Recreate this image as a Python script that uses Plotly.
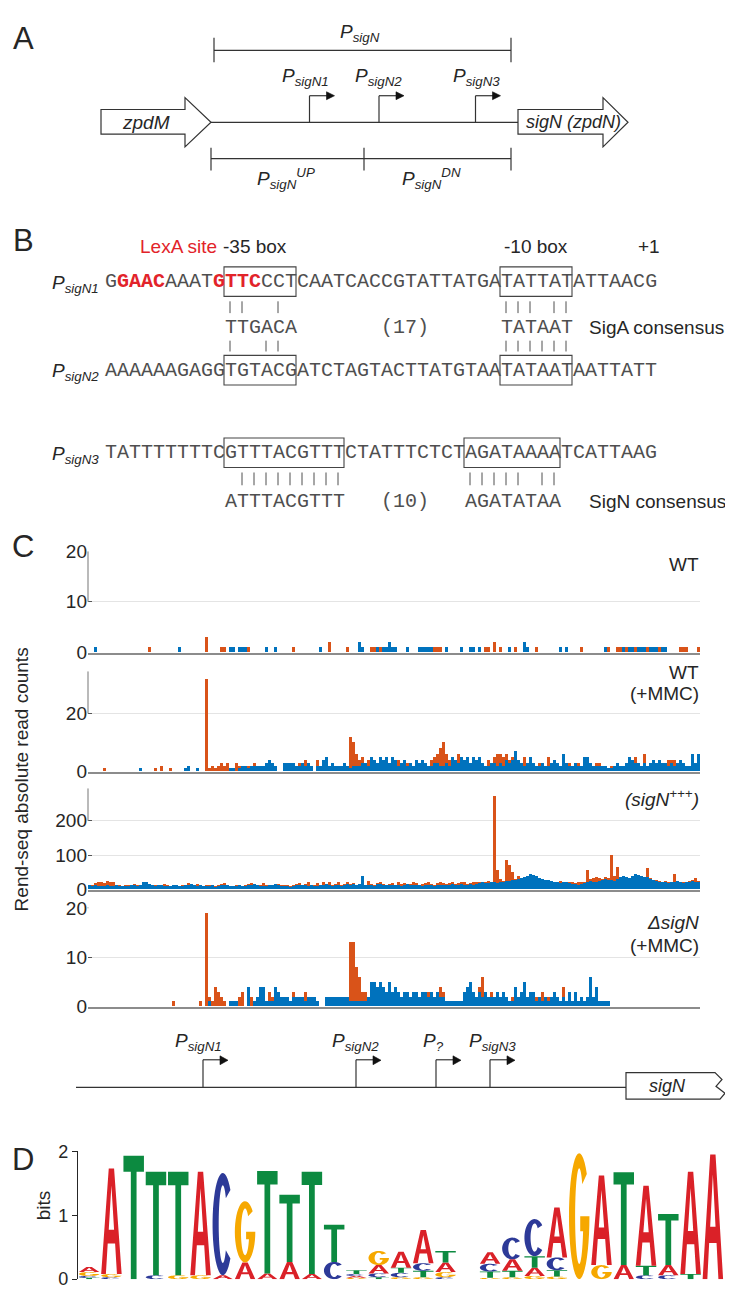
import plotly.graph_objects as go
import numpy as np

W, H = 733, 1291

# ======================= DATA =======================
# Panel C: Rend-seq read counts per position bin (0..203); orange = one end type, blue = other
n_bins = 204

wt_blue_pos = [2, 30, 47, 48, 50, 51, 52, 59, 62, 77, 90, 91, 96, 98, 99, 100, 101, 102, 106, 110,
               111, 112, 113, 114, 119, 124, 127, 128, 130, 140, 145, 146, 157, 159, 172, 178, 180, 181,
               183, 184, 185, 187, 188, 189, 191, 192]
wt_blue_val = [1, 1, 1, 1, 1, 1, 1, 1, 1, 1, 2, 1, 1, 1, 1, 2, 1, 1, 1, 1,
               1, 1, 1, 1, 1, 1, 1, 1, 1, 1, 2, 1, 1, 1, 1, 1, 1, 1,
               1, 1, 1, 1, 1, 1, 1, 1]
wt_orange_pos = [20, 39, 44, 45, 53, 68, 80, 86, 94, 95, 97, 115, 116, 117, 132, 133, 135, 137, 142, 149,
                 164, 173, 176, 177, 179, 182, 186, 190, 197, 198, 199, 203]
wt_orange_val = [1, 3, 1, 1, 1, 1, 2, 1, 1, 1, 1, 1, 1, 1, 1, 1, 2, 1, 1, 1,
                 1, 1, 1, 1, 1, 1, 1, 1, 1, 1, 1, 1]

mmc_blue = [0, 0, 0, 0, 0, 0, 0, 0, 0, 0, 0, 0, 0, 0, 0, 0, 0, 1, 0, 0,
            0, 0, 0, 0, 0, 0, 0, 0, 0, 0, 0, 0, 1, 2, 0, 0, 1, 0, 0, 0,
            0, 0, 0, 0, 0, 0, 0, 1, 1, 0, 1, 2, 2, 1, 2, 2, 2, 2, 2, 3,
            4, 3, 2, 0, 0, 3, 3, 3, 3, 2, 2, 3, 2, 3, 2, 0, 2, 2, 4, 5,
            2, 3, 2, 2, 2, 3, 2, 1, 2, 2, 2, 3, 3, 2, 5, 4, 3, 5, 4, 5,
            3, 5, 4, 2, 3, 4, 2, 3, 2, 4, 3, 4, 3, 2, 2, 3, 3, 2, 2, 3,
            2, 5, 4, 3, 5, 4, 5, 3, 5, 4, 5, 3, 2, 2, 3, 3, 2, 3, 2, 4,
            3, 4, 7, 4, 3, 2, 3, 5, 3, 2, 2, 3, 2, 2, 3, 4, 3, 2, 6, 3,
            2, 2, 3, 2, 2, 5, 5, 3, 2, 2, 2, 2, 2, 1, 1, 2, 3, 2, 2, 3,
            5, 4, 3, 3, 2, 3, 2, 3, 4, 3, 4, 3, 3, 2, 3, 2, 3, 4, 3, 2,
            2, 6, 3, 6]
mmc_orange_pos = [5, 22, 24, 27, 39, 40, 41, 42, 43, 44, 45, 46, 49, 50, 52, 53, 55, 57, 60, 67,
                  70, 72, 74, 76, 84, 87, 88, 89, 90, 91, 92, 93, 96, 103, 106, 112, 114, 115, 116, 117,
                  118, 119, 120, 123, 126, 128, 133, 135, 136, 137, 138, 139, 140, 141, 145, 147, 150, 153, 156, 160,
                  163, 169, 170, 174, 176, 182, 185, 188, 193, 194, 195, 199]
mmc_orange_val = [1, 1, 2, 1, 32, 1, 2, 1, 2, 3, 2, 3, 3, 2, 1, 2, 3, 2, 3, 3,
                  3, 4, 2, 4, 2, 12, 10, 6, 4, 5, 3, 4, 3, 4, 3, 3, 4, 5, 6, 8,
                  10, 6, 4, 6, 4, 3, 4, 5, 6, 6, 5, 6, 4, 5, 5, 4, 3, 5, 3, 3,
                  3, 3, 3, 2, 2, 5, 6, 2, 4, 4, 4, 2]

sigN_blue = [12, 10, 12, 11, 9, 10, 12, 10, 11, 12, 10, 9, 11, 10, 12, 13, 11, 12, 22, 20,
             15, 12, 10, 12, 14, 11, 9, 10, 12, 13, 11, 10, 12, 14, 15, 12, 10, 13, 11, 9,
             10, 12, 8, 10, 12, 13, 14, 11, 10, 9, 12, 11, 10, 12, 13, 15, 12, 11, 10, 9,
             12, 13, 15, 12, 10, 11, 9, 8, 10, 12, 14, 12, 13, 11, 12, 10, 11, 12, 13, 15,
             12, 10, 14, 12, 11, 13, 15, 12, 16, 14, 15, 38, 14, 12, 13, 11, 15, 16, 14, 12,
             13, 12, 14, 12, 11, 13, 15, 12, 14, 13, 12, 11, 13, 14, 12, 11, 12, 13, 14, 12,
             13, 15, 12, 14, 16, 13, 14, 15, 12, 16, 18, 20, 17, 19, 22, 20, 18, 20, 22, 25,
             24, 26, 28, 30, 32, 35, 40, 45, 42, 38, 34, 30, 28, 26, 25, 22, 20, 18, 20, 22,
             18, 16, 15, 14, 16, 18, 22, 24, 20, 22, 25, 28, 30, 28, 26, 24, 30, 35, 38, 36,
             34, 40, 45, 42, 38, 36, 35, 30, 28, 25, 22, 20, 20, 18, 20, 22, 24, 20, 18, 20,
             22, 24, 20, 22]
sigN_orange = [10, 12, 18, 20, 22, 18, 24, 20, 22, 14, 12, 10, 12, 14, 11, 15, 12, 10, 15, 14,
               12, 14, 12, 10, 14, 16, 12, 10, 14, 12, 11, 12, 14, 18, 12, 10, 15, 12, 10, 12,
               14, 12, 10, 12, 15, 18, 12, 10, 11, 14, 12, 10, 12, 16, 18, 14, 12, 14, 18, 12,
               10, 12, 14, 16, 12, 14, 12, 10, 12, 15, 18, 14, 16, 20, 14, 12, 18, 14, 20, 16,
               20, 14, 16, 22, 14, 16, 20, 15, 18, 14, 16, 20, 14, 25, 16, 14, 18, 20, 16, 14,
               16, 18, 14, 20, 16, 18, 14, 16, 20, 18, 14, 16, 18, 20, 16, 14, 18, 20, 18, 16,
               18, 20, 16, 18, 20, 22, 16, 18, 20, 22, 20, 18, 22, 24, 20, 270, 55, 30, 25, 85,
               70, 50, 30, 40, 30, 28, 36, 38, 40, 36, 30, 28, 26, 24, 22, 20, 22, 24, 22, 20,
               22, 20, 18, 22, 20, 22, 55, 30, 32, 35, 34, 30, 35, 33, 100, 40, 65, 36, 38, 34,
               32, 38, 40, 36, 34, 32, 62, 32, 28, 26, 24, 22, 24, 22, 20, 45, 24, 22, 20, 22,
               24, 26, 32, 24]

dsig_blue_start = 40
dsig_blue = [1, 0, 0, 0, 0, 0, 0, 1, 1, 1, 0, 0, 0, 4, 0, 1, 2, 4, 4, 1,
             1, 1, 4, 3, 2, 2, 2, 1, 2, 2, 2, 2, 1, 2, 2, 2, 1, 0, 0, 2,
             2, 2, 2, 2, 2, 2, 2, 1, 1, 1, 1, 1, 1, 2, 5, 5, 4, 5, 4, 3,
             5, 3, 4, 3, 2, 3, 3, 2, 3, 3, 2, 3, 3, 2, 3, 2, 3, 2, 2, 1,
             1, 1, 1, 1, 1, 3, 4, 5, 3, 2, 3, 2, 3, 2, 2, 2, 3, 2, 3, 2,
             1, 1, 4, 2, 3, 5, 2, 3, 3, 1, 2, 1, 2, 1, 2, 3, 2, 1, 2, 1,
             3, 1, 3, 1, 2, 1, 2, 6, 2, 4, 1, 1, 1, 1]
dsig_orange_pos = [28, 37, 39, 40, 41, 42, 43, 44, 45, 47, 50, 51, 54, 60, 61, 68, 70, 72, 73, 87,
                   88, 89, 90, 91, 92, 94, 112, 113, 115, 117, 118, 124, 130, 131, 134, 141, 149, 151, 153, 158]
dsig_orange_val = [1, 1, 19, 2, 1, 4, 3, 2, 1, 1, 2, 3, 2, 3, 2, 3, 2, 3, 2, 13,
                   13, 8, 6, 3, 3, 4, 3, 3, 2, 4, 3, 1, 4, 6, 3, 2, 2, 3, 2, 4]

panel_labels = ["WT", "WT<br>(+MMC)", "<i>(sigN<sup>+++</sup>)</i>", "<i>\u0394sigN</i><br>(+MMC)"]
panel_yticks = [[0, 10, 20], [0, 20], [0, 100, 200], [0, 10, 20]]
panel_ymax = [20, 34.6, 294, 20.2]

# Panel D: sequence logo letter heights (bits) per motif column
logo_A = [0.08, 1.65, 0, 0, 0, 1.62, 0.06, 0.26, 0.09, 0.27, 0.08, 0, 0.03, 0.13, 0.25, 0.52, 0.15, 0, 0.18, 0.18,
          0.13, 0.78, 0, 1.40, 0.22, 1.25, 0.16, 1.60, 1.95]
logo_C = [0.03, 0.03, 0, 0.06, 0, 0, 1.60, 0, 0, 0, 0, 0.27, 0.03, 0.06, 0.07, 0.12, 0.03, 0, 0.12, 0.34,
          0.58, 0.20, 0, 0, 0, 0.06, 0.06, 0, 0]
logo_G = [0.06, 0.05, 0, 0, 0.06, 0.06, 0, 0.96, 0, 0, 0, 0, 0.02, 0.22, 0.03, 0.03, 0.08, 0, 0.02, 0.03,
          0.05, 0.04, 1.97, 0.22, 0, 0, 0, 0, 0]
logo_T = [0.02, 0, 1.93, 1.62, 1.62, 0, 0, 0, 1.60, 1.05, 1.60, 0.58, 0.06, 0.03, 0.08, 0.10, 0.18, 0, 0.10, 0.10,
          0.18, 0.10, 0, 0, 1.45, 0.15, 0.80, 0.08, 0]

# Panel B sequences
seq_sigN1 = "GGAACAAATGTTCCCTCAATCACCGTATTATGATATTATATTAACG"
seq_sigN2 = "AAAAAAGAGGTGTACGATCTAGTACTTATGTAATATAATAATTATT"
seq_sigN3 = "TATTTTTTTCGTTTACGTTTCTATTTCTCTAGATAAAATCATTAAG"
lexA_idx = [1, 2, 3, 4, 9, 10, 11, 12]
sigA_cons = [(10, "TTGACA"), (23, "(17)"), (33, "TATAAT")]
sigN_cons = [(10, "ATTTACGTTT"), (23, "(10)"), (30, "AGATATAA")]
sigA_boxes = [(10, 15), (33, 38)]
sigN_boxes = [(10, 19), (30, 37)]

# ======================= STYLE / HELPERS =======================
SANS = "Liberation Sans, Arial, Helvetica, sans-serif"
MONO = "Liberation Mono, Courier New, monospace"
INK = "#262626"
SEQ = "#4f4f4f"
RED = "#E2232A"
ORANGE = "#D95319"
BLUE = "#0072BD"

shapes, annots = [], []


def fx(x):
    return x / W


def fy(y):
    return 1 - y / H


def line(x0, y0, x1, y1, color="#333333", width=1.2):
    shapes.append(dict(type="line", xref="paper", yref="paper", x0=fx(x0), y0=fy(y0), x1=fx(x1), y1=fy(y1),
                       line=dict(color=color, width=width)))


def poly(pts, fill="white", color="#333333", width=1.2):
    d = "M " + " L ".join(f"{fx(x):.5f},{fy(y):.5f}" for x, y in pts) + " Z"
    shapes.append(dict(type="path", xref="paper", yref="paper", path=d, fillcolor=fill,
                       line=dict(color=color, width=width)))


def rect(x0, y0, x1, y1, color="#444444", width=1.1):
    shapes.append(dict(type="rect", xref="paper", yref="paper", x0=fx(x0), y0=fy(y1), x1=fx(x1), y1=fy(y0),
                       line=dict(color=color, width=width), fillcolor="rgba(0,0,0,0)"))


def text(x, y, s, size, anchor="center", color=INK, family=SANS, angle=0):
    annots.append(dict(xref="paper", yref="paper", x=fx(x), y=fy(y), text=s, showarrow=False,
                       xanchor=anchor, yanchor="middle", textangle=angle, borderpad=0,
                       font=dict(size=size, color=color, family=family)))


def ptext(sub, sup=None):
    s = "<i>P</i><sub><i>%s</i></sub>" % sub
    if sup:
        s += "<sup><i>%s</i></sup>" % sup
    return s


# ======================= PANEL A =======================
text(15, 21, "A", 31)
line(206, 33, 503, 33)
line(206, 20, 206, 45)
line(503, 20, 503, 45)
text(352, 15, ptext("sigN"), 19)
line(203, 106, 510, 106)
poly([(93, 93), (177, 93), (177, 81), (203, 106), (177, 131), (177, 118), (93, 118)])
poly([(510, 93), (595, 93), (595, 81), (620, 106), (595, 131), (595, 118), (510, 118)])
text(138, 106, "<i>zpdM</i>", 19)
text(565, 106, "<i>sigN (zpdN)</i>", 18)
for xp, lab, lx in [(301.5, "sigN1", 273), (371, "sigN2", 346), (467.5, "sigN3", 444)]:
    line(xp, 106, xp, 79)
    line(xp, 79, xp + 18, 79)
    poly([(xp + 17, 75), (xp + 25, 79), (xp + 17, 83)], fill="#111111", color="#111111", width=0.6)
    text(lx, 60, ptext(lab), 19, anchor="left")
line(203, 143, 503, 143)
for t in (203, 356, 503):
    line(t, 132, t, 155)
text(248, 163, ptext("sigN", "UP"), 19, anchor="left")
text(393, 163, ptext("sigN", "DN"), 19, anchor="left")

# ======================= PANEL B =======================
CH = 12.0   # monospace advance at 20 px
X0 = 96.0


def cx(i):
    return X0 + i * CH


text(15, 226, "B", 31)
text(131, 232, "LexA site", 19, anchor="left", color=RED)
text(214, 232, "-35 box", 19, anchor="left")
text(495, 232, "-10 box", 19, anchor="left")
text(629, 232, "+1", 19, anchor="left")


def seq_html(seq, red_idx):
    out, i = [], 0
    while i < len(seq):
        red = i in red_idx
        j = i
        while j < len(seq) and (j in red_idx) == red:
            j += 1
        chunk = seq[i:j]
        out.append("<span style='color:%s'><b>%s</b></span>" % (RED, chunk) if red else chunk)
        i = j
    return "".join(out)


rows = [(seq_sigN1, 268, "sigN1", lexA_idx, sigA_boxes),
        (seq_sigN2, 358, "sigN2", [], sigA_boxes),
        (seq_sigN3, 442, "sigN3", [], sigN_boxes)]
for seq, yy, lab, red, boxes in rows:
    text(43, yy + 2, ptext(lab), 19, anchor="left")
    text(X0, yy, seq_html(seq, red), 20, anchor="left", color=SEQ, family=MONO)
    for a, b in boxes:
        rect(cx(a), yy - 15, cx(b + 1), yy + 15)


def cons_row(cons, yy, label):
    for start, s in cons:
        text(cx(start), yy, s, 20, anchor="left", color=SEQ, family=MONO)
    text(580, yy, label, 19, anchor="left")


def match_bars(seq, cons, y0, y1):
    for start, s in cons:
        if s.startswith("("):
            continue
        for k, ch in enumerate(s):
            if seq[start + k] == ch:
                xm = cx(start + k) + CH / 2
                line(xm, y0, xm, y1, color=SEQ, width=1)


cons_row(sigA_cons, 315, "SigA consensus")
match_bars(seq_sigN1, sigA_cons, 288, 300)
match_bars(seq_sigN2, sigA_cons, 328, 339)
cons_row(sigN_cons, 492, "SigN consensus")
match_bars(seq_sigN3, sigN_cons, 462, 475)

# ======================= PANEL C =======================
text(15, 537, "C", 31)
chart_px = [(542, 645), (664, 766), (783, 886), (904, 1005)]
layout_axes = {}
traces = []
series = [
    ((wt_orange_pos, wt_orange_val), (wt_blue_pos, wt_blue_val)),
    ((mmc_orange_pos, mmc_orange_val), (list(range(n_bins)), mmc_blue)),
    ((list(range(n_bins)), sigN_orange), (list(range(n_bins)), sigN_blue)),
    ((dsig_orange_pos, dsig_orange_val), (list(range(dsig_blue_start, dsig_blue_start + len(dsig_blue))), dsig_blue)),
]
for k in range(4):
    top, bot = chart_px[k]
    sx = "" if k == 0 else str(k + 1)
    layout_axes["xaxis" + sx] = dict(domain=[fx(80), fx(692)], range=[-0.5, n_bins - 0.5], anchor="y" + sx,
                                     showticklabels=False, ticks="", showgrid=False, zeroline=False,
                                     showline=True, linecolor="#8c8c8c", linewidth=1.5)
    layout_axes["yaxis" + sx] = dict(domain=[fy(bot), fy(top)], range=[0, panel_ymax[k]], anchor="x" + sx,
                                     tickvals=panel_yticks[k], showgrid=True, gridcolor="#e4e4e4", gridwidth=1,
                                     zeroline=False, showline=False, ticks="inside", ticklen=4,
                                     tickcolor="#555555", tickfont=dict(size=19, color=INK, family=SANS))
    (op, ov), (bp, bv) = series[k]
    traces.append(go.Bar(x=op, y=ov, width=1, marker=dict(color=ORANGE, line=dict(width=0)),
                         xaxis="x" + sx, yaxis="y" + sx, hoverinfo="skip"))
    traces.append(go.Bar(x=bp, y=bv, width=1, marker=dict(color=BLUE, line=dict(width=0)),
                         xaxis="x" + sx, yaxis="y" + sx, hoverinfo="skip"))
    # short y-axis spine above the highest labelled tick
    spine_from = panel_yticks[k][-2] if k == 0 else panel_yticks[k][-1]
    shapes.append(dict(type="line", xref="x%s domain" % sx, yref="y" + sx, x0=0, x1=0,
                       y0=spine_from, y1=panel_ymax[k], line=dict(color="#8c8c8c", width=1.2)))

label_y = [[556], [665, 687], [793], [919, 943]]
for k, lab in enumerate(panel_labels):
    parts = lab.split("<br>")
    for part, yy in zip(parts, label_y[k]):
        text(692, yy, part, 19, anchor="right")

text(13, 774, "Rend-seq absolute read counts", 19, angle=-90)

# gene map below panel C
line(68, 1087, 618, 1087)
poly([(618, 1072), (707, 1072), (714, 1079), (708, 1086), (717, 1093), (712, 1099), (618, 1099)])
text(659, 1086, "<i>sigN</i>", 18)
for xp, lab, lx in [(195, "sigN1", 166), (348, "sigN2", 323), (428, "?", 414), (482, "sigN3", 460)]:
    line(xp, 1087, xp, 1059)
    line(xp, 1059, xp + 18, 1059)
    poly([(xp + 17, 1055), (xp + 25, 1059.5), (xp + 17, 1064)], fill="#111111", color="#111111", width=0.6)
    text(lx, 1041, ptext(lab), 19, anchor="left")

# ======================= PANEL D (sequence logo) =======================
text(15, 1160, "D", 31)
text(35, 1207, "bits", 19, angle=-90)

n_cols = len(logo_A)
layout_axes["xaxis5"] = dict(domain=[fx(70), fx(716)], range=[0, n_cols], anchor="y5", visible=False)
layout_axes["yaxis5"] = dict(domain=[fy(1282), fy(1152)], range=[0, 2], anchor="x5", tickvals=[0, 1, 2],
                             showgrid=False, zeroline=False, showline=True, linecolor=INK, linewidth=1.2,
                             ticks="outside", ticklen=5, tickcolor=INK,
                             tickfont=dict(size=18, color=INK, family=SANS))
totals = [a + c + g + t for a, c, g, t in zip(logo_A, logo_C, logo_G, logo_T)]
traces.append(go.Bar(x=[i + 0.5 for i in range(n_cols)], y=totals, width=1, marker=dict(opacity=0),
                     xaxis="x5", yaxis="y5", hoverinfo="skip"))


def ellipse_pts(a0, a1, rx, ry, n=40):
    th = np.radians(np.linspace(a0, a1, n))
    return [(0.5 + rx * np.cos(t), 0.5 + ry * np.sin(t)) for t in th]


def glyph(letter):
    if letter == "A":
        outer = [(0, 0), (0.37, 1), (0.63, 1), (1, 0), (0.77, 0), (0.68, 0.29), (0.32, 0.29), (0.23, 0)]
        hole = [(0.37, 0.42), (0.5, 0.84), (0.63, 0.42)]
        return [outer, hole]
    if letter == "T":
        return [[(0, 1), (1, 1), (1, 0.87), (0.64, 0.87), (0.64, 0), (0.36, 0), (0.36, 0.87), (0, 0.87)]]
    if letter == "C":
        return [ellipse_pts(42, 318, 0.5, 0.5) + ellipse_pts(318, 42, 0.2, 0.38)]
    if letter == "G":
        yb = 0.38
        th_in = np.degrees(np.arcsin((yb - 0.5) / 0.38)) + 360
        pts = ellipse_pts(42, 360, 0.5, 0.5)
        x_in = 0.5 + 0.2 * np.cos(np.radians(th_in))
        pts += [(0.55, 0.5), (0.55, yb), (x_in, yb)]
        pts += ellipse_pts(th_in, 42, 0.2, 0.38)
        return [pts]
    return []


letter_color = {"A": "#DA2128", "C": "#2D3A98", "G": "#F6A800", "T": "#0C8A40"}
for i in range(n_cols):
    stack = sorted([("A", logo_A[i]), ("C", logo_C[i]), ("G", logo_G[i]), ("T", logo_T[i])], key=lambda p: p[1])
    ybase = 0.0
    for let, h in stack:
        if h < 0.005:
            continue
        parts = []
        for pl in glyph(let):
            parts.append("M " + " L ".join("%.4f,%.4f" % (i + 0.04 + 0.92 * u, ybase + h * v) for u, v in pl) + " Z")
        shapes.append(dict(type="path", xref="x5", yref="y5", path=" ".join(parts),
                           fillcolor=letter_color[let], line=dict(width=0), fillrule="evenodd"))
        ybase += h

# ======================= FIGURE =======================
fig = go.Figure(data=traces)
fig.update_layout(width=W, height=H, margin=dict(l=0, r=0, t=0, b=0, pad=0), autosize=False,
                  paper_bgcolor="white", plot_bgcolor="white", showlegend=False,
                  barmode="overlay", bargap=0, shapes=shapes, annotations=annots, **layout_axes)
fig.write_html("out.html")
